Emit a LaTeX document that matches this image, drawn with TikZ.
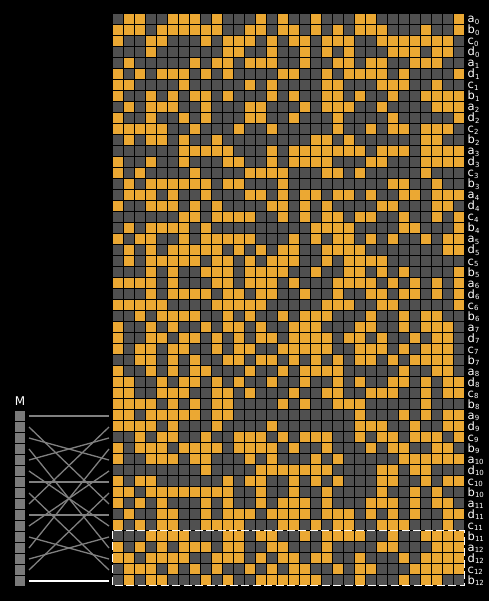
\documentclass[tikz,border=0pt]{standalone}
\usepackage{fontspec}
\setmainfont{DejaVu Sans}
\definecolor{cellon}{RGB}{235,168,51}
\definecolor{celloff}{RGB}{80,80,80}
\definecolor{wirec}{RGB}{128,128,128}
\definecolor{msq}{RGB}{122,122,122}
\makeatletter
\def\bitrow#1#2{\def\myrow{#1}\def\mycol{0}\bit@loop#2\relax}
\def\bit@loop#1{\ifx#1\relax\else\bit@cell{#1}\expandafter\bit@loop\fi}
\def\bit@cell#1{\fill[cell#1] ({113+11*\mycol},{14+11*\myrow}) rectangle ++(10,10);\pgfmathtruncatemacro\mycol{\mycol+1}}
\makeatother
\newcommand\lbl[2]{#1\raisebox{-1.5pt}{\fontsize{7}{7}\selectfont #2}}
\tikzset{
  cell0/.style={fill=celloff},
  cell1/.style={fill=cellon},
  lab/.style={anchor=base west,inner sep=0pt,text=white,font=\fontsize{11.5}{11.5}\selectfont},
  msquare/.style={fill=msq,minimum size=10pt,inner sep=0pt,draw=none},
  wire/.style={draw=wirec,line width=1.3pt},
  hiwire/.style={draw=white,line width=2.2pt},
  dashbox/.style={draw=white,line width=1pt,dash pattern=on 8pt off 3.5pt}
}
\begin{document}
\begin{tikzpicture}[x=1pt,y=-1pt]
\fill[black] (0,0) rectangle (489,601);
\useasboundingbox (0,0) rectangle (489,601);
\bitrow{0}{0110011101000101 0010001100000001}
\bitrow{1}{1110111111001101 1010101110001001}
\bitrow{2}{1001100010111010 1101110011111110}
\bitrow{3}{0001000000110010 0101010001110110}
\bitrow{4}{0100000101101110 0100110110011100}
\bitrow{5}{1010111010100001 1001011110100001}
\bitrow{6}{1100001000001010 0001100011100100}
\bitrow{7}{1001010110100010 1001101001001111}
\bitrow{8}{0101110010001100 0101110010000111}
\bitrow{9}{1001001010001100 1000100001000001}
\bitrow{10}{1111100100010010 0000100101101110}
\bitrow{11}{0101101001000000 0011010000001100}
\bitrow{12}{0000001111100010 1111111011101111}
\bitrow{13}{1001001000110010 1111000110001111}
\bitrow{14}{1010000100001111 0001101000001000}
\bitrow{15}{0101111110110001 0000000001100100}
\bitrow{16}{0111010010001101 0110110100110111}
\bitrow{17}{1001110101000011 0101000011000110}
\bitrow{18}{0000001101111001 0101101100100101}
\bitrow{19}{0101111010000000 0011110000110001}
\bitrow{20}{1011001011111000 1010110101001011}
\bitrow{21}{0101011111010101 1001111000000011}
\bitrow{22}{0101111101101011 1001011110000000}
\bitrow{23}{0001010011101111 0010011010100001}
\bitrow{24}{1111010001101110 1000111101010101}
\bitrow{25}{0001011110110110 0100100110110101}
\bitrow{26}{1111100001111100 0001110011000001}
\bitrow{27}{0010111100101001 0111000100101100}
\bitrow{28}{1001010010110100 1110001100101110}
\bitrow{29}{1001101101010110 1111011010010110}
\bitrow{30}{1011011001011001 1111001110101110}
\bitrow{31}{0011010100110110 1010101101011110}
\bitrow{32}{1001010110001001 0111100000100110}
\bitrow{33}{1100101101010010 0100101001101011}
\bitrow{34}{1100111001101000 1001100111001011}
\bitrow{35}{1111010101100001 0100111000001000}
\bitrow{36}{1101111101100000 0000001000101011}
\bitrow{37}{1111010001000010 0000001110010011}
\bitrow{38}{0010110010011101 0111001011011101}
\bitrow{39}{1011101111011110 1001000101100110}
\bitrow{40}{1001110110001010 0010100000111111}
\bitrow{41}{0000000010000111 1111000011011000}
\bitrow{42}{1011000000101100 1010100011001011}
\bitrow{43}{1101111111100100 1001000010010100}
\bitrow{44}{1010100010100101 1101000111010110}
\bitrow{45}{0100110010111011 1101110101010011}
\bitrow{46}{1010110011110001 1010110011100010}
\bitrow{47}{0001111000110110 0101111001001111}
\bitrow{48}{1010101110110011 0001000011000111}
\bitrow{49}{1101111001110101 1011001000101111}
\bitrow{50}{0111010101001010 1100101100011111}
\bitrow{51}{0101100010100111 1110001000101100}
% row labels
\foreach \t [count=\i from 0] in {a,b,c,d}
  \node[lab] (l\i) at (467.5,{23+11*\i}) {\lbl{\t}{0}};
\foreach \k in {1,...,12}
  \foreach \t [count=\i from 0] in {a,d,c,b} {
    \pgfmathtruncatemacro\rr{4*\k+\i}
    \node[lab] (l\rr) at (467.5,{23+11*\rr}) {\lbl{\t}{\k}};
  }
% dashed box
\draw[dashbox] (112.5,530.5) rectangle (464.5,585.8);
% message words
\node[anchor=base,inner sep=0pt,text=white,font=\fontsize{12}{12}\selectfont] (mlabel) at (20,405) {M};
\foreach \k in {0,...,15} {
  \node[msquare] (m\k) at (20,{416+11*\k}) {};
  \coordinate (L\k) at (29,{416+11*\k});
  \coordinate (R\k) at (109,{416+11*\k});
}
\foreach \a/\b in {0/0,1/8,2/4,3/12,4/2,5/10,6/6,7/14,8/1,9/9,10/5,11/13,12/3,13/11,14/7}
  \draw[wire] (L\a) -- (R\b);
\draw[hiwire] (L15) -- (R15);
\end{tikzpicture}
\end{document}
